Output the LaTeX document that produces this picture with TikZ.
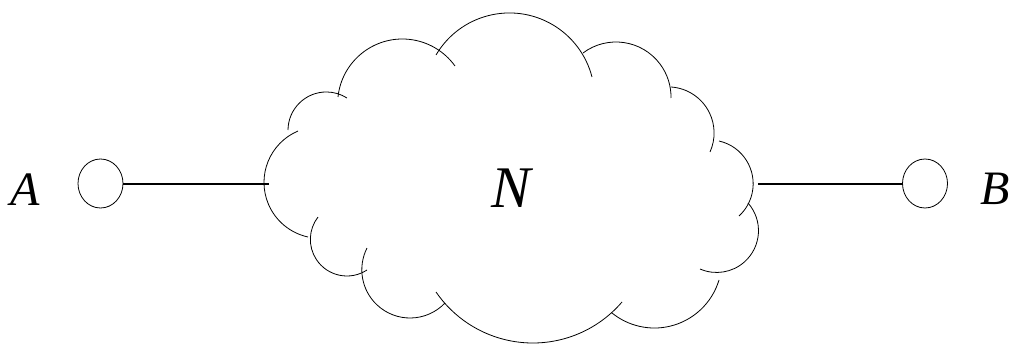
\documentclass[tikz,border=0pt]{standalone}
\usepackage{fontspec}
\setmainfont{Liberation Serif}
\usetikzlibrary{shapes.geometric}
\tikzset{
  cloudline/.style={line width=0.8pt, black},
  conn/.style={line width=2pt, black},
  port/.style={ellipse, draw, line width=0.8pt, minimum width=45pt, minimum height=49pt, inner sep=0pt},
  lbl/.style={font=\fontsize{48}{48}\selectfont\itshape, inner sep=0pt, anchor=base},
  biglbl/.style={font=\fontsize{59}{59}\selectfont\itshape, inner sep=0pt, anchor=base}
}
% arc through three points given in image pixel coordinates (y downward)
\newcommand\drawcloudarc[6]{%
  \pgfmathsetmacro\cAx{#1/100}%
  \pgfmathsetmacro\cAy{-#2/100}%
  \pgfmathsetmacro\cBx{#3/100-(\cAx)}%
  \pgfmathsetmacro\cBy{-#4/100-(\cAy)}%
  \pgfmathsetmacro\cCx{#5/100-(\cAx)}%
  \pgfmathsetmacro\cCy{-#6/100-(\cAy)}%
  \pgfmathsetmacro\cD{2*((\cBx)*(\cCy)-(\cBy)*(\cCx))}%
  \pgfmathsetmacro\cBB{(\cBx)*(\cBx)+(\cBy)*(\cBy)}%
  \pgfmathsetmacro\cCC{(\cCx)*(\cCx)+(\cCy)*(\cCy)}%
  \pgfmathsetmacro\cUx{((\cCy)*(\cBB)-(\cBy)*(\cCC))/(\cD)}%
  \pgfmathsetmacro\cUy{((\cBx)*(\cCC)-(\cCx)*(\cBB))/(\cD)}%
  \pgfmathsetmacro\cR{100*sqrt((\cUx)*(\cUx)+(\cUy)*(\cUy))}%
  \pgfmathsetmacro\cAone{atan2(-1*(\cUy),-1*(\cUx))}%
  \pgfmathsetmacro\cAthree{atan2((\cCy)-(\cUy),(\cCx)-(\cUx))}%
  \pgfmathsetmacro\cAend{(\cD>0) ? ((\cAone)+mod((\cAthree)-(\cAone)+720,360)) : ((\cAone)-mod((\cAone)-(\cAthree)+720,360))}%
  \draw[cloudline] (#1pt,-#2pt) arc[start angle=\cAone, end angle=\cAend, radius=\cR pt];%
}
\begin{document}
\begin{tikzpicture}
\useasboundingbox (0pt,0pt) rectangle (1012pt,-345pt);
% cloud arcs
\drawcloudarc{436}{55}{512}{13}{592}{77}
\drawcloudarc{338}{97}{403}{39}{455}{66}
\drawcloudarc{288}{130}{328}{92}{347}{98}
\drawcloudarc{298}{131}{264}{183}{308}{237}
\drawcloudarc{367}{270}{347}{276}{318}{217}
\drawcloudarc{445}{303}{410}{318}{367}{248}
\drawcloudarc{622}{302}{533}{343}{436}{292}
\drawcloudarc{719}{280}{653}{328}{612}{313}
\drawcloudarc{748}{203}{758}{237}{700}{269}
\drawcloudarc{719}{141}{753}{180}{739}{216}
\drawcloudarc{671}{87}{714}{130}{710}{152}
\drawcloudarc{583}{53}{617}{42}{671}{98}
% label of cloud
\node[biglbl] (N) at (511pt,-207pt) {N};
% ports
\node[port] (pa) at (100.5pt,-183.5pt) {};
\node[port] (pb) at (925pt,-183.5pt) {};
\coordinate (cl) at (269pt,-183.5pt);
\coordinate (cr) at (758pt,-183.5pt);
\draw[conn] (pa.east) -- (cl);
\draw[conn] (cr) -- (pb.west);
% labels
\node[lbl] (la) at (25.5pt,-205pt) {A};
\node[lbl] (lb) at (995.5pt,-204pt) {B};
\end{tikzpicture}
\end{document}
